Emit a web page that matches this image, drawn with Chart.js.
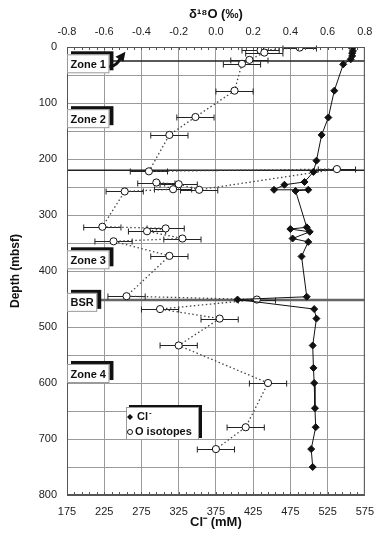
<!DOCTYPE html>
<html>
<head>
<meta charset="utf-8">
<script src="https://cdn.jsdelivr.net/npm/chart.js@4.4.1/dist/chart.umd.min.js"></script>
<style>
html, body { margin: 0; padding: 0; background: #fff; }
#wrap { width: 384px; height: 541px; }
</style>
</head>
<body>
<div id="wrap"><canvas id="isoChart" width="384" height="541"></canvas></div>
<script>
/* Chloride profile (mM vs mbsf) */
const clDepth = [2, 7, 11, 16, 22, 31, 78, 126, 157, 203, 223, 241, 246, 255, 255, 257, 322, 325, 330, 342, 348, 374, 446, 451, 468, 485, 533, 573, 600, 645, 679, 718, 750];
const clValue = [558, 559, 558, 558, 556, 546, 534, 526, 517, 510, 506, 494, 467, 453, 499, 482, 497, 475, 501, 478, 499, 490, 497, 404, 507, 510, 505, 506, 507, 508, 509, 503, 505];

/* Oxygen isotopes (per mil) with error bars */
const oDepth = [1, 6, 10, 23, 30, 78, 125, 157, 222, 218, 255, 245, 242, 254, 258, 321, 324, 329, 342, 347, 373, 445, 451, 468, 485, 533, 600, 679, 718];
const oValue = [0.45, 0.24, 0.26, 0.18, 0.14, 0.10, -0.11, -0.25, -0.36, 0.65, -0.09, -0.20, -0.32, -0.23, -0.49, -0.61, -0.27, -0.37, -0.18, -0.55, -0.25, -0.48, 0.22, -0.30, 0.02, -0.20, 0.28, 0.16, 0.00];
const oError = [0.09, 0.10, 0.10, 0.10, 0.10, 0.10, 0.10, 0.10, 0.10, 0.10, 0.10, 0.10, 0.10, 0.10, 0.10, 0.10, 0.10, 0.10, 0.10, 0.10, 0.10, 0.10, 0.10, 0.10, 0.10, 0.10, 0.10, 0.10, 0.10];

/* Axes */
const clTicks = [175, 225, 275, 325, 375, 425, 475, 525, 575];
const isoTicks = [-0.8, -0.6, -0.4, -0.2, 0.0, 0.2, 0.4, 0.6, 0.8];
const depthTicks = [0, 100, 200, 300, 400, 500, 600, 700, 800];
const depthGrid = [0, 50, 100, 150, 200, 250, 300, 350, 400, 450, 500, 550, 600, 650, 700, 750, 800];

/* Zones */
const zoneLines = [25, 220, 452];
const zoneNames = ["Zone 1", "Zone 2", "Zone 3", "BSR", "Zone 4"];
const zoneLabelDepth = [30, 128, 380, 456, 583];

const FONT = '"Liberation Sans", Arial, Helvetica, sans-serif';

function tagBox(ctx, x, yc, text) {
    ctx.font = "bold 11px " + FONT;
    const bw = ctx.measureText(text).width + 7;
    const h = 19;
    ctx.fillStyle = "#111";
    ctx.fillRect(x + 4, yc - h / 2 - 3, bw, h);
    ctx.fillStyle = "#fff";
    ctx.fillRect(x, yc - h / 2, bw, h);
    ctx.strokeStyle = "#999";
    ctx.lineWidth = 1;
    ctx.strokeRect(x + 0.5, yc - h / 2 + 0.5, bw - 1, h - 1);
    ctx.fillStyle = "#111";
    ctx.textAlign = "left";
    ctx.textBaseline = "middle";
    ctx.fillText(text, x + 3.5, yc + 1);
    return x + bw + 4;
}

const decor = {
    id: "decor",
    beforeDatasetsDraw(chart) {
        const { ctx, chartArea: a, scales } = chart;
        const x2 = scales.x2, y = scales.y;
        ctx.save();

        // zone boundaries
        zoneLines.forEach((d, i) => {
            const py = y.getPixelForValue(d);
            ctx.beginPath();
            ctx.strokeStyle = i === 2 ? "#666" : "#222";
            ctx.lineWidth = i === 2 ? 2.5 : 1.5;
            ctx.moveTo(a.left, py);
            ctx.lineTo(a.right, py);
            ctx.stroke();
        });

        // error bars on isotope points
        ctx.strokeStyle = "#222";
        ctx.lineWidth = 1;
        oDepth.forEach((d, i) => {
            const py = Math.round(y.getPixelForValue(d)) + 0.5;
            const l = x2.getPixelForValue(oValue[i] - oError[i]);
            const r = x2.getPixelForValue(oValue[i] + oError[i]);
            ctx.beginPath();
            ctx.moveTo(l, py); ctx.lineTo(r, py);
            ctx.moveTo(l, py - 3); ctx.lineTo(l, py + 3);
            ctx.moveTo(r, py - 3); ctx.lineTo(r, py + 3);
            ctx.stroke();
        });
        ctx.restore();
    },
    afterDatasetsDraw(chart) {
        const { ctx, chartArea: a, scales } = chart;
        const x = scales.x, y = scales.y;
        ctx.save();

        // frame
        ctx.strokeStyle = "#555";
        ctx.lineWidth = 1;
        ctx.strokeRect(a.left + 0.5, a.top + 0.5, a.right - a.left - 1, a.bottom - a.top - 1);

        // minor ticks top and bottom
        ctx.beginPath();
        for (let v = 185; v < 575; v += 10) {
            const px = Math.round(x.getPixelForValue(v)) + 0.5;
            ctx.moveTo(px, a.top); ctx.lineTo(px, a.top + 3);
            ctx.moveTo(px, a.bottom); ctx.lineTo(px, a.bottom - 3);
        }
        ctx.stroke();

        // zone tags
        zoneNames.forEach((n, i) => {
            const yc = y.getPixelForValue(zoneLabelDepth[i]);
            const end = tagBox(ctx, a.left, yc, n);
            if (i === 0) {
                // arrow pointing up from Zone 1
                ctx.strokeStyle = "#111";
                ctx.lineWidth = 3;
                ctx.beginPath();
                ctx.moveTo(end - 4, yc + 3);
                ctx.quadraticCurveTo(end + 4, yc + 2, end + 7, yc - 6);
                ctx.stroke();
                ctx.fillStyle = "#111";
                ctx.beginPath();
                ctx.moveTo(end + 12, yc - 12);
                ctx.lineTo(end + 2, yc - 7);
                ctx.lineTo(end + 10, yc - 2);
                ctx.closePath();
                ctx.fill();
            }
        });

        // legend
        const lx = a.left + 59, ly = a.top + 360, lw = 73, lh = 33;
        ctx.fillStyle = "#111";
        ctx.fillRect(lx + 3, ly - 2, lw, lh);
        ctx.fillStyle = "#fff";
        ctx.fillRect(lx, ly, lw, lh);
        ctx.strokeStyle = "#999";
        ctx.strokeRect(lx + 0.5, ly + 0.5, lw - 1, lh - 1);

        ctx.fillStyle = "#111";
        ctx.beginPath();
        ctx.moveTo(lx + 4, ly + 7); ctx.lineTo(lx + 7, ly + 10);
        ctx.lineTo(lx + 4, ly + 13); ctx.lineTo(lx + 1, ly + 10);
        ctx.closePath(); ctx.fill();
        ctx.beginPath();
        ctx.arc(lx + 4, ly + 25, 2.5, 0, Math.PI * 2);
        ctx.strokeStyle = "#111"; ctx.lineWidth = 1;
        ctx.stroke();

        ctx.font = "bold 11px " + FONT;
        ctx.textAlign = "left";
        ctx.textBaseline = "middle";
        ctx.fillText("Cl", lx + 11, ly + 10);
        const cw = ctx.measureText("Cl").width;
        ctx.font = "bold 8px " + FONT;
        ctx.fillText("-", lx + 11 + cw + 1, ly + 6);
        ctx.font = "bold 11px " + FONT;
        ctx.fillText("O isotopes", lx + 9, ly + 25);
        ctx.restore();
    }
};

const ctx = document.getElementById("isoChart");

new Chart(ctx, {
    type: "scatter",
    data: {
        datasets: [
            {
                label: "Cl-",
                data: clDepth.map((d, i) => ({ x: clValue[i], y: d })),
                xAxisID: "x",
                yAxisID: "y",
                showLine: true,
                borderColor: "#111",
                borderWidth: 1,
                pointStyle: "rectRot",
                pointRadius: 3.5,
                pointBackgroundColor: "#111",
                pointBorderColor: "#111"
            },
            {
                label: "O isotopes",
                data: oDepth.map((d, i) => ({ x: oValue[i], y: d })),
                xAxisID: "x2",
                yAxisID: "y",
                showLine: true,
                borderColor: "#444",
                borderWidth: 1.3,
                borderDash: [1.5, 2.5],
                pointStyle: "circle",
                pointRadius: 3.6,
                pointBackgroundColor: "#fff",
                pointBorderColor: "#111",
                pointBorderWidth: 1
            }
        ]
    },
    options: {
        responsive: false,
        animation: false,
        layout: { padding: { left: 0, right: 16, top: 0, bottom: 0 } },
        plugins: { legend: { display: false }, tooltip: { enabled: false } },
        scales: {
            x: {
                type: "linear",
                position: "bottom",
                min: 175,
                max: 575,
                afterBuildTicks: s => { s.ticks = clTicks.map(v => ({ value: v })); },
                afterFit: s => { s.height = 46; },
                grid: { color: "#9a9a9a", drawTicks: false },
                border: { color: "#555" },
                ticks: { padding: 10, color: "#222", font: { family: FONT, size: 11 } },
                title: {
                    display: true,
                    text: "Cl\u207B (mM)",
                    color: "#111",
                    font: { family: FONT, size: 13, weight: "bold" },
                    padding: { top: 0, bottom: 11 }
                }
            },
            x2: {
                type: "linear",
                position: "top",
                min: -0.8,
                max: 0.8,
                afterBuildTicks: s => { s.ticks = isoTicks.map(v => ({ value: v })); },
                afterFit: s => { s.height = 47; },
                grid: { drawOnChartArea: false, drawTicks: false },
                border: { color: "#555" },
                ticks: { padding: 8, color: "#222", font: { family: FONT, size: 11 }, callback: v => v.toFixed(1) },
                title: {
                    display: true,
                    text: "\u03B4\u00B9\u2078O (\u2030)",
                    color: "#111",
                    font: { family: FONT, size: 13, weight: "bold" },
                    padding: { top: 7, bottom: 0 }
                }
            },
            y: {
                type: "linear",
                reverse: true,
                min: 0,
                max: 800,
                afterBuildTicks: s => { s.ticks = depthGrid.map(v => ({ value: v })); },
                afterFit: s => { s.width = 67; },
                grid: { color: "#9a9a9a", drawTicks: false },
                border: { color: "#555" },
                ticks: {
                    padding: 10,
                    color: "#222",
                    autoSkip: false,
                    font: { family: FONT, size: 11 },
                    callback: v => depthTicks.includes(v) ? String(v) : ""
                },
                title: {
                    display: true,
                    text: "Depth (mbsf)",
                    color: "#111",
                    font: { family: FONT, size: 12, weight: "bold" },
                    padding: { top: 8, bottom: 0 }
                }
            }
        }
    },
    plugins: [decor]
});
</script>
</body>
</html>
